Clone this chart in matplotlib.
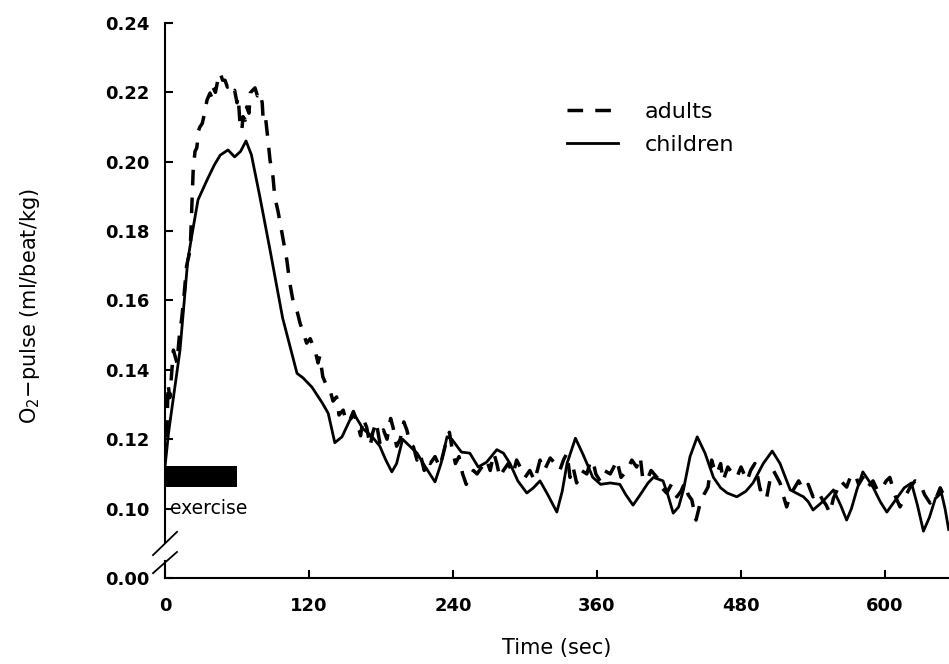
"""O2-pulse recovery curves for adults and children after short exercise."""

import matplotlib
matplotlib.use("Agg")
import matplotlib.pyplot as plt
from matplotlib.patches import Rectangle

plt.rcParams["font.family"] = ["DejaVu Sans"]
plt.rcParams["mathtext.default"] = "regular"

# solid curve: children
children_t = [0, 3, 7, 12.5, 19, 22, 27.5, 35, 41, 46, 52.5, 58, 63, 67.5, 72, 79,
              87.5, 98, 110, 115, 122.5, 131, 136, 141.5, 147.5, 154, 158, 165, 172,
              179, 184, 189, 193, 198, 204, 210, 217, 225, 230, 235, 239, 247, 254,
              261, 268, 276.5, 282, 287.5, 294, 301.5, 307, 312.5, 319, 326.5, 331,
              335, 342, 348.5, 356.5, 363, 371, 379, 384, 390, 396, 402.5, 407, 415,
              419, 423.5, 428, 432, 437.5, 443.5, 450, 457, 463, 468.5, 476.5, 484,
              490, 498.5, 506, 512.5, 521, 532, 536, 540, 548, 557, 563, 568, 572,
              576.5, 581.5, 590, 596, 601.5, 610, 616, 622, 627, 632, 637, 642, 647,
              650, 653]
children_v = [0.112, 0.122, 0.132, 0.1457, 0.1717, 0.178, 0.189, 0.1947, 0.199,
              0.2019, 0.2034, 0.2014, 0.203, 0.206, 0.202, 0.190, 0.1746, 0.155,
              0.139, 0.1377, 0.135, 0.1305, 0.1275, 0.119, 0.1207, 0.1255, 0.127,
              0.123, 0.121, 0.118, 0.114, 0.1106, 0.113, 0.120, 0.118, 0.116, 0.112,
              0.1077, 0.113, 0.1207, 0.120, 0.1163, 0.116, 0.112, 0.1134, 0.117,
              0.116, 0.113, 0.108, 0.1045, 0.106, 0.108, 0.104, 0.099, 0.105, 0.113,
              0.1203, 0.1155, 0.109, 0.107, 0.1074, 0.107, 0.104, 0.101, 0.104,
              0.1074, 0.109, 0.108, 0.104, 0.0987, 0.1005, 0.1054, 0.115, 0.1207,
              0.116, 0.109, 0.106, 0.1045, 0.1034, 0.105, 0.1074, 0.113, 0.1166,
              0.113, 0.1054, 0.1034, 0.102, 0.0996, 0.102, 0.1054, 0.101, 0.0967,
              0.100, 0.1054, 0.1106, 0.1062, 0.102, 0.099, 0.1031, 0.106, 0.1074,
              0.101, 0.0935, 0.0975, 0.103, 0.1045, 0.100, 0.094]

# dashed curve: adults
adults_t = [0, 1.5, 2.5, 4, 7, 10, 12, 14, 16, 18, 21, 22.5, 23.5, 25, 26.5, 28, 29,
            31, 33, 35, 37.5, 39, 40, 42, 44, 46, 48, 50, 52, 54, 56, 58, 60, 61,
            62.5, 64, 65, 67, 68, 70, 71, 73, 75, 77, 79, 81, 82, 84, 86, 87.5, 90,
            91.5, 94, 96, 98.5, 101.5, 104, 107, 110, 112.5, 115, 118, 121, 125,
            127.5, 129, 131.5, 134, 137.5, 140, 143, 145, 148.5, 151, 154, 157, 160,
            163, 165, 168, 171, 173, 176, 179, 182, 185, 188, 190, 193, 196, 199,
            201.5, 204, 207, 210, 212.5, 216, 218, 221, 225, 229, 232, 235, 237, 239,
            242, 245, 248, 251, 254, 257, 260, 264, 268, 271, 274, 276.5, 279, 282,
            286, 290, 293, 296, 300, 304, 308, 312.5, 316, 321, 325, 329, 332, 335,
            337.5, 340, 343, 347, 351.5, 354, 356.5, 359, 362.5, 366, 371, 374,
            376.5, 380, 385, 389, 393, 396, 398, 401.5, 405, 410, 414, 418, 422,
            426.5, 430, 433, 436, 439, 442.5, 446, 449, 452.5, 455.5, 458, 460, 463,
            465, 469, 473, 476.5, 480, 485, 488, 491.5, 494, 496, 499, 501.5, 504,
            507, 510, 512.5, 515, 518, 521, 523.5, 528, 532, 536, 540, 544, 548, 551,
            554, 557, 559, 563, 568, 571, 575, 578, 581.5, 585, 590, 594, 598, 601,
            604, 608, 612.5, 616, 621, 625, 629, 633, 637.5, 640, 643, 646, 648]
adults_v = [0.125, 0.119, 0.136, 0.132, 0.1457, 0.142, 0.150, 0.155, 0.162, 0.170,
            0.1746, 0.188, 0.1976, 0.203, 0.204, 0.209, 0.210, 0.211, 0.214, 0.2178,
            0.2198, 0.2185, 0.2215, 0.220, 0.2235, 0.2256, 0.2235, 0.2235, 0.2215,
            0.222, 0.220, 0.2206, 0.217, 0.2187, 0.211, 0.209, 0.213, 0.212, 0.2158,
            0.214, 0.2198, 0.2206, 0.2213, 0.219, 0.220, 0.217, 0.211, 0.212,
            0.2057, 0.2005, 0.1956, 0.1898, 0.186, 0.1823, 0.1774, 0.1717, 0.165,
            0.1593, 0.157, 0.1535, 0.151, 0.1477, 0.149, 0.1457, 0.142, 0.144, 0.138,
            0.136, 0.1342, 0.131, 0.1322, 0.127, 0.1284, 0.125, 0.1255, 0.128, 0.125,
            0.121, 0.126, 0.1235, 0.118, 0.1218, 0.125, 0.119, 0.1227, 0.120, 0.126,
            0.1235, 0.118, 0.120, 0.125, 0.1227, 0.119, 0.1178, 0.114, 0.116, 0.111,
            0.114, 0.113, 0.115, 0.112, 0.116, 0.1203, 0.122, 0.1178, 0.113, 0.115,
            0.110, 0.107, 0.109, 0.111, 0.110, 0.112, 0.114, 0.111, 0.116, 0.113,
            0.109, 0.111, 0.113, 0.110, 0.114, 0.112, 0.109, 0.111, 0.108, 0.114,
            0.111, 0.1146, 0.113, 0.111, 0.114, 0.116, 0.109, 0.112, 0.1074, 0.111,
            0.110, 0.113, 0.114, 0.110, 0.108, 0.111, 0.110, 0.112, 0.114, 0.109,
            0.111, 0.114, 0.112, 0.115, 0.109, 0.108, 0.111, 0.109, 0.106, 0.1045,
            0.107, 0.1034, 0.105, 0.1074, 0.104, 0.1025, 0.0967, 0.1016, 0.104,
            0.1062, 0.114, 0.111, 0.110, 0.113, 0.108, 0.112, 0.110, 0.109, 0.112,
            0.108, 0.111, 0.113, 0.109, 0.1054, 0.106, 0.1034, 0.108, 0.111, 0.109,
            0.1074, 0.104, 0.1005, 0.104, 0.1054, 0.108, 0.1054, 0.107, 0.1034,
            0.105, 0.1025, 0.101, 0.0987, 0.103, 0.1045, 0.108, 0.1062, 0.109, 0.110,
            0.107, 0.109, 0.106, 0.108, 0.105, 0.1062, 0.108, 0.109, 0.104, 0.1005,
            0.103, 0.1062, 0.108, 0.1074, 0.104, 0.1016, 0.104, 0.1034, 0.106, 0.1045]

exercise_span = (0, 60)
x_ticks = [0, 120, 240, 360, 480, 600]
y_ticks = [0.08, 0.10, 0.12, 0.14, 0.16, 0.18, 0.20, 0.22, 0.24]
y_tick_labels = ["0.00", "0.10", "0.12", "0.14", "0.16", "0.18", "0.20", "0.22", "0.24"]

fig = plt.figure(figsize=(9.49, 6.64), dpi=100)
ax = fig.add_axes([165 / 949, 86 / 664, 784 / 949, 555 / 664])

ax.plot(adults_t, adults_v, color="black", lw=2.5, linestyle=(0, (4.5, 3.5)),
        label="adults", solid_joinstyle="round")
ax.plot(children_t, children_v, color="black", lw=2.0, label="children",
        solid_joinstyle="round")

ax.add_patch(Rectangle((exercise_span[0], 0.1062), exercise_span[1] - exercise_span[0],
                       0.0061, color="black", lw=0))
ax.text(4, 0.1, "exercise", ha="left", va="center", fontsize=13.5)

ax.set_xlim(0, 653.3)
ax.set_ylim(0.08, 0.24)
ax.set_xticks(x_ticks)
ax.set_yticks(y_ticks)
ax.set_yticklabels(y_tick_labels)
ax.tick_params(direction="in", length=6, width=1.5, labelsize=13)
ax.tick_params(axis="x", pad=14)
ax.tick_params(axis="y", pad=11)
for lab in ax.get_xticklabels() + ax.get_yticklabels():
    lab.set_fontweight("bold")

for side in ("top", "right", "left"):
    ax.spines[side].set_visible(False)
ax.spines["bottom"].set_linewidth(1.5)

# broken left axis
yax = ax.get_yaxis_transform()
ax.plot([0, 0], [0.0905, 0.24], color="black", lw=1.5, transform=yax, clip_on=False)
ax.plot([0, 0], [0.08, 0.0848], color="black", lw=1.5, transform=yax, clip_on=False)
ax.plot([-0.0153, 0.0153], [0.0866, 0.0933], color="black", lw=1.3, transform=yax, clip_on=False)
ax.plot([-0.0153, 0.0153], [0.0814, 0.0875], color="black", lw=1.3, transform=yax, clip_on=False)

ax.set_xlabel("Time (sec)", fontsize=15)
ax.set_ylabel("O$_2$\u2212pulse (ml/beat/kg)", fontsize=15)
ax.xaxis.set_label_coords(0.5, -0.108)
ax.yaxis.set_label_coords(-0.157, 0.49)

ax.legend(loc="upper left", bbox_to_anchor=(0.513, 0.858), frameon=False, fontsize=16,
          handlelength=2.3, handletextpad=1.2, labelspacing=0.6, borderpad=0,
          borderaxespad=0)

fig.savefig("out.png", dpi=100)
plt.close(fig)
